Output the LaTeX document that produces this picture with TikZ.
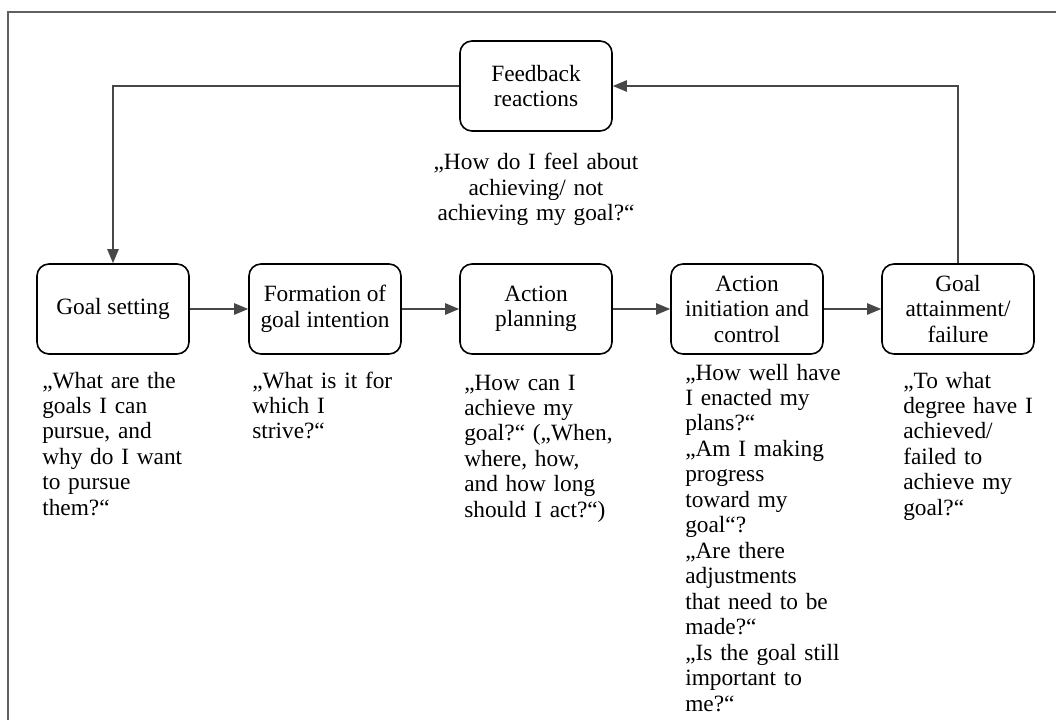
\documentclass[tikz,border=0pt]{standalone}
\usepackage{fontspec}
\setmainfont{Liberation Serif}
\usetikzlibrary{arrows.meta}
\definecolor{linegray}{HTML}{474747}
\definecolor{framegray}{HTML}{606060}
\begin{document}
\begin{tikzpicture}[x=0.75pt,y=-0.75pt,
  txt/.style={font=\fontsize{17.5}{19.1}\selectfont},
  stage/.style={txt, draw=black, line width=1.2pt, rounded corners=9pt,
    minimum width=114pt, minimum height=67.5pt, inner sep=0pt, align=center},
  question/.style={txt, anchor=base west, inner sep=0pt, text width=140pt, align=left},
  flow/.style={draw=linegray, line width=1.1pt, -{Triangle[length=10.5pt,width=8.5pt]}}
]
\useasboundingbox (0,0) rectangle (1056,720);
% partial frame
\draw[framegray, line width=1.5pt] (8,722) -- (8,12) -- (1058,12);

% stages
\node[stage] (fb) at (536,86)  {Feedback\\reactions};
\node[stage] (gs) at (113,309) {Goal setting};
\node[stage] (fi) at (325,309) {Formation of\\goal intention};
\node[stage] (ap) at (536,309) {Action\\planning};
\node[stage] (ai) at (747,309) {Action\\initiation and\\control};
\node[stage] (ga) at (958,309) {Goal\\attainment/\\failure};

% flow between stages
\draw[flow] (gs.east) -- (fi.west);
\draw[flow] (fi.east) -- (ap.west);
\draw[flow] (ap.east) -- (ai.west);
\draw[flow] (ai.east) -- (ga.west);
\draw[flow] (ga.north) |- (fb.east);
\draw[flow] (fb.west) -| (gs.north);

% guiding questions
\node[txt, anchor=base, inner sep=0pt, text width=200pt, align=center] (qfb) at (536,170)
  {„How do I feel about\\achieving/ not\\achieving my goal?“};
\node[question] (qgs) at (42,388)
  {„What are the\\goals I can\\pursue, and\\why do I want\\to pursue\\them?“};
\node[question] (qfi) at (252,388)
  {„What is it for\\which I\\strive?“};
\node[question] (qap) at (464,390)
  {„How can I\\achieve my\\goal?“ („When,\\where, how,\\and how long\\should I act?“)};
\node[question] (qai) at (685,380)
  {„How well have\\I enacted my\\plans?“\\„Am I making\\progress\\toward my\\goal“?\\„Are there\\adjustments\\that need to be\\made?“\\„Is the goal still\\important to\\me?“};
\node[question] (qga) at (903,388)
  {„To what\\degree have I\\achieved/\\failed to\\achieve my\\goal?“};
\end{tikzpicture}
\end{document}
